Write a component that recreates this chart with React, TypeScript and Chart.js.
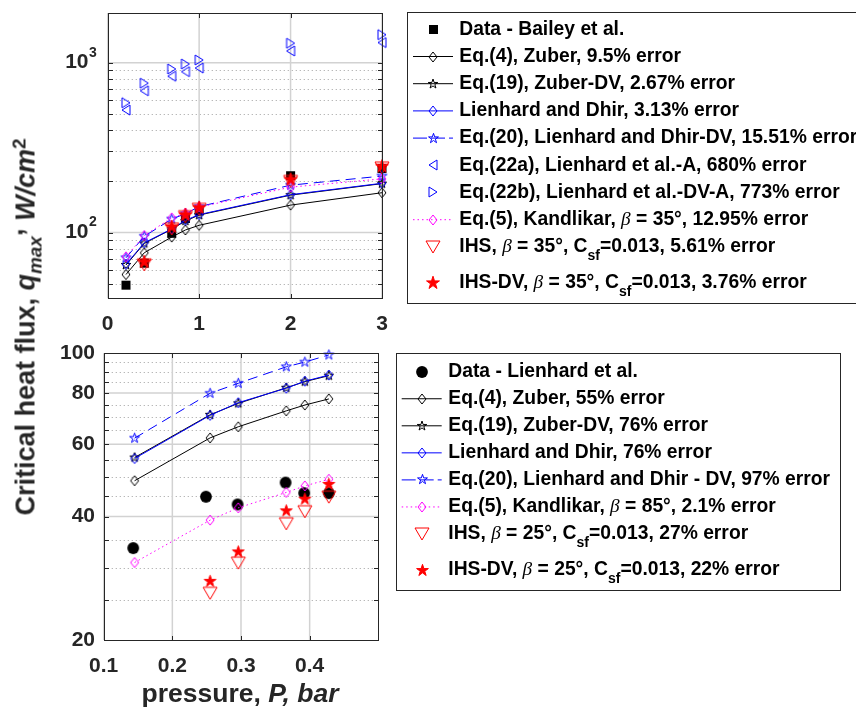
import React, { useEffect, useRef } from 'react';
import { Chart, registerables } from 'chart.js';

Chart.register(...registerables);

// ---------------- top panel : Bailey et al. ----------------
const topPressure = [0.2, 0.4, 0.7, 0.85, 1.0, 2.0, 3.0];
const topBailey = [49, 66, 99, 121, 134, 216, 238];
const topZuber = [56.6, 76, 94, 103.5, 110.3, 145, 171.5];
const topZuberDV = [64.4, 86.3, 104.5, 117, 126.7, 166, 194];
const topLienhardDhir = [65, 87, 105, 118, 127.5, 167, 195];
const topLienhardDhirDV = [71, 95, 120, 129, 142, 190, 215];
const topEq22a = [526, 683, 832, 885, 930, 1172, 1313];
const topEq22b = [581, 757, 918, 982, 1037, 1301, 1462];
const topKandlikar = [72, 96, 122, 130, 141, 185, 207];
const topIHS = [null, 64.5, 105, 124, 137, 200, 240];
const topIHSDV = [null, 67, 108, 127, 140, 205, 245];

const topLabels = [
  'Data - Bailey et al.',
  'Eq.(4), Zuber, 9.5% error',
  'Eq.(19), Zuber-DV, 2.67% error',
  'Lienhard and Dhir, 3.13% error',
  'Eq.(20), Lienhard and Dhir-DV, 15.51% error',
  'Eq.(22a), Lienhard et al.-A, 680% error',
  'Eq.(22b), Lienhard et al.-DV-A, 773% error',
  'Eq.(5), Kandlikar, {i:β} = 35°, 12.95% error',
  'IHS, {i:β} = 35°, C{sub:sf}=0.013, 5.61% error',
  'IHS-DV, {i:β} = 35°, C{sub:sf}=0.013, 3.76% error',
];
const topXTicks = [0, 1, 2, 3];
const topXTickLabels = ['0', '1', '2', '3'];
const topYDecades = [2, 3];
const topYMajor = [100, 1000];
const topYMinor = [50, 60, 70, 80, 90, 200, 300, 400, 500, 600, 700, 800, 900];

// ---------------- bottom panel : Lienhard et al. ----------------
const botPressure = [0.145, 0.255, 0.296, 0.366, 0.393, 0.428];
const botDataPressure = [0.143, 0.249, 0.295, 0.365, 0.392, 0.428];
const botLienhardData = [33.5, 44.7, 42.8, 48.4, 45.6, 45.6];
const botZuber = [48.9, 62.2, 66.2, 72.4, 74.8, 77.4];
const botZuberDV = [55.7, 70.8, 75.5, 82.4, 85.3, 88.2];
const botLienhardDhir = [55.4, 70.6, 75.8, 82.2, 85.5, 88.5];
const botLienhardDhirDV = [62.1, 79.9, 84.5, 92.7, 95.2, 99.1];
const botKandlikar = [30.9, 39.2, 42.0, 45.8, 47.5, 49.3];
const botIHS = [null, 26.0, 30.8, 38.4, 41.1, 44.6];
const botIHSDV = [null, 27.8, 32.8, 41.3, 44.1, 47.9];

const botLabels = [
  'Data - Lienhard et al.',
  'Eq.(4), Zuber, 55% error',
  'Eq.(19), Zuber-DV, 76% error',
  'Lienhard and Dhir, 76% error',
  'Eq.(20), Lienhard and Dhir - DV, 97% error',
  'Eq.(5), Kandlikar, {i:β} = 85°, 2.1% error',
  'IHS, {i:β} = 25°, C{sub:sf}=0.013, 27% error',
  'IHS-DV, {i:β} = 25°, C{sub:sf}=0.013, 22% error',
];
const botXTicks = [0.1, 0.2, 0.3, 0.4];
const botXTickLabels = ['0.1', '0.2', '0.3', '0.4'];
const botYTicks = [20, 40, 60, 80, 100];
const botYTickLabels = ['20', '40', '60', '80', '100'];
const botYMajor = [40, 60, 80];
const botYMinor = [25, 30, 35, 45, 50, 55, 65, 70, 75, 85, 90, 95];

// ---------------- styling ----------------
const SANS = '"Liberation Sans", Arial, sans-serif';
const TICK_SIZE = 21;
const AXIS_COLOR = '#262626';
const BLACK = '#000000';
const BLUE = '#0000ff';
const MAGENTA = '#ff00ff';
const RED = '#ff0000';

// ---------------- marker images ----------------
function mk(w: number, h: number, draw: (g: CanvasRenderingContext2D, cx: number, cy: number) => void) {
  const W = Math.ceil(w + 4);
  const H = Math.ceil(h + 4);
  const c = document.createElement('canvas');
  c.width = W;
  c.height = H;
  const g = c.getContext('2d')!;
  g.lineJoin = 'miter';
  draw(g, W / 2, H / 2);
  return c;
}
const square = (s: number, color: string) =>
  mk(s, s, (g, cx, cy) => {
    g.fillStyle = color;
    g.fillRect(cx - s / 2, cy - s / 2, s, s);
  });
const circle = (r: number, color: string) =>
  mk(2 * r, 2 * r, (g, cx, cy) => {
    g.beginPath();
    g.arc(cx, cy, r, 0, Math.PI * 2);
    g.fillStyle = color;
    g.fill();
  });
const diamond = (w: number, h: number, color: string) =>
  mk(w, h, (g, cx, cy) => {
    g.beginPath();
    g.moveTo(cx, cy - h / 2);
    g.lineTo(cx + w / 2, cy);
    g.lineTo(cx, cy + h / 2);
    g.lineTo(cx - w / 2, cy);
    g.closePath();
    g.strokeStyle = color;
    g.lineWidth = 1;
    g.stroke();
  });
const star = (R: number, color: string, filled: boolean) =>
  mk(2 * R, 2 * R, (g, cx, cy) => {
    g.beginPath();
    for (let k = 0; k < 10; k++) {
      const r = k % 2 === 0 ? R : R * 0.382;
      const a = -Math.PI / 2 + (k * Math.PI) / 5;
      const px = cx + r * Math.cos(a);
      const py = cy + r * Math.sin(a);
      if (k === 0) g.moveTo(px, py);
      else g.lineTo(px, py);
    }
    g.closePath();
    if (filled) {
      g.fillStyle = color;
      g.fill();
    }
    g.strokeStyle = color;
    g.lineWidth = 1;
    g.stroke();
  });
const triangle = (len: number, base: number, dir: 'down' | 'left' | 'right', color: string) => {
  const horiz = dir !== 'down';
  return mk(horiz ? len : base, horiz ? base : len, (g, cx, cy) => {
    g.beginPath();
    if (dir === 'down') {
      g.moveTo(cx - base / 2, cy - len / 2);
      g.lineTo(cx + base / 2, cy - len / 2);
      g.lineTo(cx, cy + len / 2);
    } else if (dir === 'left') {
      g.moveTo(cx - len / 2, cy);
      g.lineTo(cx + len / 2, cy - base / 2);
      g.lineTo(cx + len / 2, cy + base / 2);
    } else {
      g.moveTo(cx + len / 2, cy);
      g.lineTo(cx - len / 2, cy - base / 2);
      g.lineTo(cx - len / 2, cy + base / 2);
    }
    g.closePath();
    g.strokeStyle = color;
    g.lineWidth = 1;
    g.stroke();
  });
};

// ---------------- rich text ----------------
function drawRich(ctx: CanvasRenderingContext2D, text: string, x: number, y: number, size: number) {
  const parts = text.split(/(\{[a-z]+:[^}]*\})/).filter(Boolean);
  let cx = x;
  for (const p of parts) {
    const m = p.match(/^\{([a-z]+):([^}]*)\}$/);
    let font = `bold ${size}px ${SANS}`;
    let dy = 0;
    let t = p;
    if (m) {
      t = m[2];
      if (m[1] === 'i') font = `italic ${size}px "Liberation Serif", "DejaVu Serif", serif`;
      else if (m[1] === 'sub') {
        font = `bold ${Math.round(size * 0.74)}px ${SANS}`;
        dy = size * 0.48;
      }
    }
    ctx.font = font;
    ctx.fillText(t, cx, y + dy);
    cx += ctx.measureText(t).width;
  }
}

type LegendLayout = {
  left: number; top: number; right: number; bottom: number;
  x0: number; x1: number; mx: number; tx: number;
  firstY: number; step: number; subExtra: number; size: number;
};

type AxesCfg = {
  xTicks: number[];
  xTickLabels: string[];
  xLabelY: number;
  yTicks?: number[];
  yTickLabels?: string[];
  yLabelX: number;
  yMajor: number[];
  yMinor: number[];
  legend: LegendLayout;
  decades?: number[];
};

function line(ctx: CanvasRenderingContext2D, x0: number, y0: number, x1: number, y1: number) {
  ctx.beginPath();
  ctx.moveTo(x0, y0);
  ctx.lineTo(x1, y1);
  ctx.stroke();
}

function makePlugin(cfg: AxesCfg) {
  return {
    id: 'matlabAxes',
    beforeDatasetsDraw(chart: any) {
      const { ctx, chartArea: a, scales } = chart;
      const x = scales.x;
      const y = scales.y;
      ctx.save();
      ctx.lineWidth = 1;
      ctx.strokeStyle = '#b0b0b0';
      ctx.setLineDash([1.2, 2.8]);
      for (const v of cfg.yMinor) {
        const py = Math.round(y.getPixelForValue(v)) + 0.5;
        line(ctx, a.left, py, a.right, py);
      }
      ctx.setLineDash([]);
      ctx.strokeStyle = '#d2d2d2';
      ctx.lineWidth = 1.5;
      for (const v of cfg.yMajor) {
        const py = y.getPixelForValue(v);
        line(ctx, a.left, py, a.right, py);
      }
      for (const v of cfg.xTicks) {
        const px = x.getPixelForValue(v);
        line(ctx, px, a.top, px, a.bottom);
      }
      ctx.restore();
    },
    afterDatasetsDraw(chart: any) {
      const { ctx, chartArea: a, scales } = chart;
      const x = scales.x;
      const y = scales.y;
      ctx.save();
      ctx.strokeStyle = AXIS_COLOR;
      ctx.lineWidth = 1;
      const L = Math.round(a.left) + 0.5;
      const R = Math.round(a.right) + 0.5;
      const T = Math.round(a.top) + 0.5;
      const B = Math.round(a.bottom) + 0.5;
      ctx.strokeRect(L, T, R - L, B - T);
      const tl = 4.5;
      for (const v of [...cfg.yMajor, ...cfg.yMinor]) {
        const py = Math.round(y.getPixelForValue(v)) + 0.5;
        line(ctx, L, py, L + tl, py);
        line(ctx, R, py, R - tl, py);
      }
      for (const v of cfg.xTicks) {
        const px = Math.round(x.getPixelForValue(v)) + 0.5;
        line(ctx, px, B, px, B - tl);
        line(ctx, px, T, px, T + tl);
      }

      // tick labels
      ctx.fillStyle = AXIS_COLOR;
      ctx.textBaseline = 'middle';
      ctx.textAlign = 'center';
      ctx.font = `bold ${TICK_SIZE}px ${SANS}`;
      cfg.xTicks.forEach((v, i) => {
        ctx.fillText(cfg.xTickLabels[i], x.getPixelForValue(v), cfg.xLabelY);
      });
      if (cfg.yTicks && cfg.yTickLabels) {
        ctx.textAlign = 'right';
        cfg.yTicks.forEach((v, i) => {
          ctx.fillText(cfg.yTickLabels![i], cfg.yLabelX, y.getPixelForValue(v));
        });
      }
      if (cfg.decades) {
        for (const e of cfg.decades) {
          const py = y.getPixelForValue(Math.pow(10, e));
          ctx.textAlign = 'right';
          ctx.font = `bold ${TICK_SIZE}px ${SANS}`;
          ctx.fillText('10', cfg.yLabelX, py);
          ctx.textAlign = 'left';
          ctx.font = `bold 14px ${SANS}`;
          ctx.fillText(String(e), cfg.yLabelX + 0.5, py - 10);
        }
      }
      ctx.restore();
    },
    afterDraw(chart: any) {
      const { ctx } = chart;
      ctx.save();
      const Lg = cfg.legend;
      ctx.fillStyle = '#ffffff';
      ctx.fillRect(Lg.left, Lg.top, Lg.right - Lg.left, Lg.bottom - Lg.top);
      ctx.strokeStyle = AXIS_COLOR;
      ctx.lineWidth = 1;
      ctx.strokeRect(Math.round(Lg.left) + 0.5, Math.round(Lg.top) + 0.5,
        Math.round(Lg.right - Lg.left), Math.round(Lg.bottom - Lg.top));
      let yy = Lg.firstY;
      ctx.textAlign = 'left';
      ctx.textBaseline = 'middle';
      for (const d of chart.data.datasets) {
        if (d.showLine) {
          ctx.strokeStyle = d.borderColor;
          ctx.lineWidth = 1;
          ctx.setLineDash(d.borderDash && d.borderDash.length ? (d.legendDash || d.borderDash) : []);
          line(ctx, Lg.x0, yy, Lg.x1, yy);
          ctx.setLineDash([]);
        }
        const img = d.pointStyle as HTMLCanvasElement;
        ctx.drawImage(img, Math.round(Lg.mx - img.width / 2), Math.round(yy - img.height / 2));
        ctx.fillStyle = '#000000';
        drawRich(ctx, d.label, Lg.tx, yy, Lg.size);
        yy += Lg.step + (d.label.includes('{sub:') ? Lg.subExtra : 0);
      }
      ctx.restore();
    },
  };
}

type Series = {
  label: string;
  xs: number[];
  ys: (number | null)[];
  color: string;
  showLine: boolean;
  dash?: number[];
  legendDash?: number[];
  marker: HTMLCanvasElement;
};

function toDatasets(series: Series[]) {
  const n = series.length;
  return series.map((s, i) => ({
    label: s.label,
    data: s.xs.map((x, k) => ({ x, y: s.ys[k] })),
    showLine: s.showLine,
    borderColor: s.color,
    backgroundColor: s.color,
    borderWidth: 1,
    borderDash: s.dash || [],
    legendDash: s.legendDash,
    pointStyle: s.marker,
    pointRadius: 5,
    pointHoverRadius: 5,
    tension: 0,
    clip: false,
    order: n - i,
  }));
}

function baseOptions(opts: {
  padTop: number; padRight: number; yWidth: number; xHeight: number;
  xMin: number; xMax: number; yMin: number; yMax: number;
}) {
  return {
    animation: false as const,
    responsive: false,
    maintainAspectRatio: false,
    events: [] as any[],
    layout: { padding: { left: 0, top: opts.padTop, right: opts.padRight, bottom: 0 } },
    plugins: { legend: { display: false }, tooltip: { enabled: false } },
    scales: {
      x: {
        type: 'linear' as const,
        min: opts.xMin,
        max: opts.xMax,
        afterFit: (s: any) => { s.height = opts.xHeight; },
        grid: { display: false },
        border: { display: false },
        ticks: { display: false },
      },
      y: {
        type: 'logarithmic' as const,
        min: opts.yMin,
        max: opts.yMax,
        afterFit: (s: any) => { s.width = opts.yWidth; },
        grid: { display: false },
        border: { display: false },
        ticks: { display: false },
      },
    },
  };
}

export default function App() {
  const topRef = useRef<HTMLCanvasElement>(null);
  const botRef = useRef<HTMLCanvasElement>(null);

  useEffect(() => {
    const sqBlack = square(9, BLACK);
    const circBlack = circle(5.9, BLACK);
    const diaBlack = diamond(8, 10, BLACK);
    const diaBlue = diamond(8, 10, BLUE);
    const diaMag = diamond(8, 10, MAGENTA);
    const starBlack = star(5, BLACK, false);
    const starBlue = star(5.2, BLUE, false);
    const starRedTop = star(6.8, RED, true);
    const starRedBot = star(6.2, RED, true);
    const triRed = triangle(12, 14, 'down', RED);
    const triLeft = triangle(8, 10, 'left', BLUE);
    const triRight = triangle(8, 10, 'right', BLUE);

    const dashed = [10, 6];
    const dotted = [1.5, 3];

    const topSeries: Series[] = [
      { label: topLabels[0], xs: topPressure, ys: topBailey, color: BLACK, showLine: false, marker: sqBlack },
      { label: topLabels[1], xs: topPressure, ys: topZuber, color: BLACK, showLine: true, marker: diaBlack },
      { label: topLabels[2], xs: topPressure, ys: topZuberDV, color: BLACK, showLine: true, marker: starBlack },
      { label: topLabels[3], xs: topPressure, ys: topLienhardDhir, color: BLUE, showLine: true, marker: diaBlue },
      { label: topLabels[4], xs: topPressure, ys: topLienhardDhirDV, color: BLUE, showLine: true, dash: dashed, legendDash: [14, 4], marker: starBlue },
      { label: topLabels[5], xs: topPressure, ys: topEq22a, color: BLUE, showLine: false, marker: triLeft },
      { label: topLabels[6], xs: topPressure, ys: topEq22b, color: BLUE, showLine: false, marker: triRight },
      { label: topLabels[7], xs: topPressure, ys: topKandlikar, color: MAGENTA, showLine: true, dash: dotted, marker: diaMag },
      { label: topLabels[8], xs: topPressure, ys: topIHS, color: RED, showLine: false, marker: triRed },
      { label: topLabels[9], xs: topPressure, ys: topIHSDV, color: RED, showLine: false, marker: starRedTop },
    ];

    const botSeries: Series[] = [
      { label: botLabels[0], xs: botDataPressure, ys: botLienhardData, color: BLACK, showLine: false, marker: circBlack },
      { label: botLabels[1], xs: botPressure, ys: botZuber, color: BLACK, showLine: true, marker: diaBlack },
      { label: botLabels[2], xs: botPressure, ys: botZuberDV, color: BLACK, showLine: true, marker: starBlack },
      { label: botLabels[3], xs: botPressure, ys: botLienhardDhir, color: BLUE, showLine: true, marker: diaBlue },
      { label: botLabels[4], xs: botPressure, ys: botLienhardDhirDV, color: BLUE, showLine: true, dash: dashed, legendDash: [14, 4], marker: starBlue },
      { label: botLabels[5], xs: botPressure, ys: botKandlikar, color: MAGENTA, showLine: true, dash: dotted, marker: diaMag },
      { label: botLabels[6], xs: botPressure, ys: botIHS, color: RED, showLine: false, marker: triRed },
      { label: botLabels[7], xs: botPressure, ys: botIHSDV, color: RED, showLine: false, marker: starRedBot },
    ];

    const topChart = new Chart(topRef.current!, {
      type: 'scatter',
      data: { datasets: toDatasets(topSeries) as any },
      options: baseOptions({
        padTop: 13, padRight: 856 - 382, yWidth: 107.7, xHeight: 340 - 298.3,
        xMin: 0, xMax: 3, yMin: 41, yMax: 1960,
      }) as any,
      plugins: [makePlugin({
        xTicks: topXTicks,
        xTickLabels: topXTickLabels,
        xLabelY: 324,
        yLabelX: 88.5,
        yMajor: topYMajor,
        yMinor: topYMinor,
        decades: topYDecades,
        legend: {
          left: 407, top: 12.3, right: 880, bottom: 303,
          x0: 413, x1: 453, mx: 433.3, tx: 459.3,
          firstY: 29.3, step: 27.2, subExtra: 8.8, size: 19.3,
        },
      })],
    });

    const botChart = new Chart(botRef.current!, {
      type: 'scatter',
      data: { datasets: toDatasets(botSeries) as any },
      options: baseOptions({
        padTop: 13.3, padRight: 856 - 378.3, yWidth: 103.7, xHeight: 373 - 300,
        xMin: 0.1, xMax: 0.5, yMin: 20, yMax: 100,
      }) as any,
      plugins: [makePlugin({
        xTicks: botXTicks,
        xTickLabels: botXTickLabels,
        xLabelY: 666.7 - 340,
        yTicks: botYTicks,
        yTickLabels: botYTickLabels,
        yLabelX: 95,
        yMajor: botYMajor,
        yMinor: botYMinor,
        legend: {
          left: 396, top: 13.3, right: 840, bottom: 250,
          x0: 401.7, x1: 441.7, mx: 422.3, tx: 448.3,
          firstY: 31.7, step: 27.05, subExtra: 9, size: 19.3,
        },
      })],
    });

    return () => {
      topChart.destroy();
      botChart.destroy();
    };
  }, []);

  return (
    <div style={{ position: 'absolute', left: 0, top: 0, width: 856, height: 713, background: '#ffffff', overflow: 'hidden' }}>
      <canvas ref={topRef} width={856} height={340} style={{ position: 'absolute', left: 0, top: 0, display: 'block' }} />
      <canvas ref={botRef} width={856} height={373} style={{ position: 'absolute', left: 0, top: 340, display: 'block' }} />
      <div
        style={{
          position: 'absolute', left: 26, top: 327,
          transform: 'translate(-50%, -50%) rotate(-90deg)',
          whiteSpace: 'nowrap', font: `bold 27px ${SANS}`, color: AXIS_COLOR, lineHeight: 1,
        }}
      >
        Critical heat flux, <i>q</i>
        <i style={{ fontSize: '0.7em', position: 'relative', top: '0.35em' }}>max</i>
        <span style={{ position: 'relative', top: '-0.45em' }}>,</span>{' '}
        <i>W/cm</i>
        <span style={{ fontSize: '0.7em', position: 'relative', top: '-0.5em' }}>2</span>
      </div>
      <div
        style={{
          position: 'absolute', left: 240, top: 693,
          transform: 'translate(-50%, -50%)',
          whiteSpace: 'nowrap', font: `bold 26.5px ${SANS}`, color: AXIS_COLOR, lineHeight: 1,
        }}
      >
        pressure, <i>P, bar</i>
      </div>
    </div>
  );
}
